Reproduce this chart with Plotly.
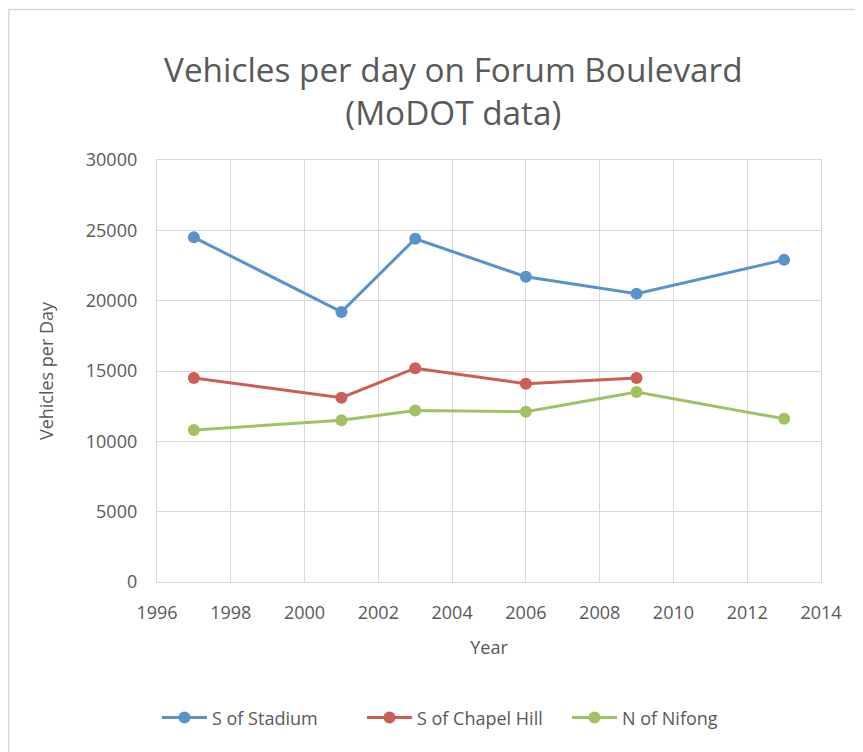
import plotly.graph_objects as go

years_stadium = [1997, 2001, 2003, 2006, 2009, 2013]
s_of_stadium = [24500, 19200, 24400, 21700, 20500, 22900]

years_chapel = [1997, 2001, 2003, 2006, 2009]
s_of_chapel_hill = [14500, 13100, 15200, 14100, 14500]

years_nifong = [1997, 2001, 2003, 2006, 2009, 2013]
n_of_nifong = [10800, 11500, 12200, 12100, 13500, 11600]

x_ticks = list(range(1996, 2015, 2))
y_ticks = list(range(0, 30001, 5000))

FONT = "Open Sans"
TXT = "#595959"
GRID = "#D9D9D9"

L, T, W, H = 149, 152, 664, 422

fig = go.Figure()
for name, xs, ys, col in [
    ("S of Stadium", years_stadium, s_of_stadium, "#5A93CB"),
    ("S of Chapel Hill", years_chapel, s_of_chapel_hill, "#CB5E55"),
    ("N of Nifong", years_nifong, n_of_nifong, "#A2C163"),
]:
    fig.add_trace(go.Scatter(
        x=xs, y=ys, name=name, mode="lines+markers",
        line=dict(color=col, width=3),
        marker=dict(color=col, size=12),
    ))

fig.update_layout(
    width=863, height=752,
    paper_bgcolor="white", plot_bgcolor="white",
    margin=dict(l=L, r=863 - L - W, t=T, b=752 - T - H),
    font=dict(family=FONT, color=TXT, size=18),
    title=dict(
        text="Vehicles per day on Forum Boulevard<br>(MoDOT data)",
        x=0.516, xanchor="center", y=0.9016, yanchor="middle",
        font=dict(family=FONT, size=33.3, color=TXT),
    ),
    legend=dict(
        orientation="h", x=0.0, xanchor="left", y=-0.322, yanchor="middle",
        font=dict(family=FONT, size=18, color=TXT),
        itemwidth=45, entrywidth=145, entrywidthmode="pixels",
        traceorder="normal",
    ),
    showlegend=True,
)
fig.update_xaxes(
    range=[1996, 2014], tickvals=x_ticks, ticktext=[str(v) for v in x_ticks],
    showgrid=True, gridcolor=GRID, gridwidth=1.3,
    showline=True, linecolor=GRID, linewidth=1.3, mirror=True,
    zeroline=False, ticks="", ticklabelstandoff=14,
    tickfont=dict(family=FONT, size=18, color=TXT),
    title=dict(text="Year", font=dict(family=FONT, size=18, color=TXT), standoff=18),
)
fig.update_yaxes(
    range=[0, 30000], tickvals=y_ticks, ticktext=[str(v) for v in y_ticks],
    showgrid=True, gridcolor=GRID, gridwidth=1.3,
    showline=True, linecolor=GRID, linewidth=1.3, mirror=True,
    zeroline=False, ticks="", ticklabelstandoff=15,
    tickfont=dict(family=FONT, size=18, color=TXT),
    title=dict(text="Vehicles per Day", font=dict(family=FONT, size=18, color=TXT), standoff=27),
)
fig.add_shape(type="rect", xref="paper", yref="paper",
              x0=(0.8 - L) / W, x1=(880 - L) / W,
              y0=(T + H - 780) / H, y1=(T + H - 1.5) / H,
              line=dict(color="#D9D9D9", width=1.5), layer="below")

fig.write_html("out.html")
